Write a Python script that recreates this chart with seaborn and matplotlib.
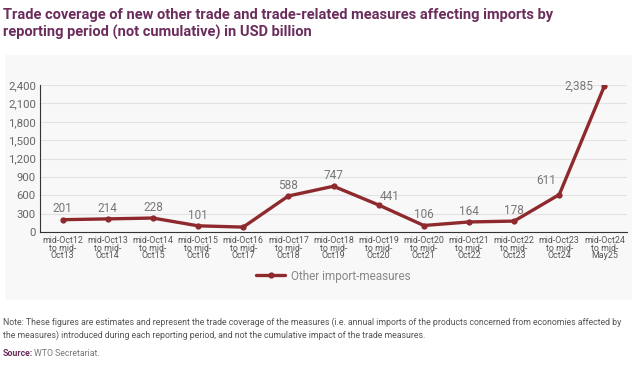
import seaborn as sns
import numpy as np
import pandas as pd
import matplotlib.pyplot as plt
from matplotlib.patches import Rectangle

# data (USD billion)
periods = ['mid-Oct12\nto mid-\nOct13', 'mid-Oct13\nto mid-\nOct14', 'mid-Oct14\nto mid-\nOct15',
           'mid-Oct15\nto mid-\nOct16', 'mid-Oct16\nto mid-\nOct17', 'mid-Oct17\nto mid-\nOct18',
           'mid-Oct18\nto mid-\nOct19', 'mid-Oct19\nto mid-\nOct20', 'mid-Oct20\nto mid-\nOct21',
           'mid-Oct21\nto mid-\nOct22', 'mid-Oct22\nto mid-\nOct23', 'mid-Oct23\nto mid-\nOct24',
           'mid-Oct24\nto mid-\nMay25']
values = [201, 214, 228, 101, 80, 588, 747, 441, 106, 164, 178, 611, 2385]
labels = ['201', '214', '228', '101', '', '588', '747', '441', '106', '164', '178', '611', '2,385']
yticks = [0, 300, 600, 900, 1200, 1500, 1800, 2100, 2400]

sns.set_style('white')
plt.rcParams['font.family'] = ['Roboto', 'DejaVu Sans']

df = pd.DataFrame({'x': np.arange(len(values)), 'value': values})

fig = plt.figure(figsize=(6.4, 3.67), dpi=100)
fig.patch.set_facecolor('white')

# light panel behind the chart
fig.patches.append(Rectangle((5/640, 1-300/367), 627/640, 245/367, transform=fig.transFigure,
                             facecolor='#f8f8f8', edgecolor='none', zorder=-5))

ax = fig.add_axes([40/640, 1-232/367, 587/640, 147/367])
ax.set_facecolor('none')
ax.set_zorder(2)

sns.lineplot(data=df, x='x', y='value', ax=ax, color='#8e2a2e', linewidth=2.4,
             marker='o', markersize=4.5, markeredgewidth=0, label='Other import-measures')

# value labels
for i, (v, t) in enumerate(zip(values, labels)):
    if not t:
        continue
    if i == len(values) - 1:
        ax.text(i - 0.25, v, t, ha='right', va='center', fontsize=8.5, color='#777777')
    elif i == 11:
        ax.text(i - 0.3, v + 130, t, ha='center', va='bottom', fontsize=8.5, color='#777777')
    elif i == 7:
        ax.text(i + 0.25, v + 40, t, ha='center', va='bottom', fontsize=8.5, color='#777777')
    else:
        ax.text(i, v + 70, t, ha='center', va='bottom', fontsize=8.5, color='#777777')

ax.set_xlim(-0.5, len(values) - 0.5)
ax.set_ylim(0, 2400)
ax.set_yticks(yticks)
ax.set_yticklabels(['{:,}'.format(y) for y in yticks], fontsize=8.2, color='#666666')
ax.set_xticks(df['x'])
ax.set_xticklabels(periods, fontsize=6.4, color='#555555', linespacing=0.8)
ax.tick_params(axis='both', length=0, pad=3)
ax.grid(axis='y', color='#e3e3e3', linewidth=0.8)
ax.set_xlabel('')
ax.set_ylabel('')
for s in ['top', 'right']:
    ax.spines[s].set_visible(False)
ax.spines['left'].set_color('#333333')
ax.spines['bottom'].set_color('#333333')
ax.spines['left'].set_linewidth(0.8)
ax.spines['bottom'].set_linewidth(0.8)

leg = ax.legend(loc='center', bbox_to_anchor=(0.5, -0.3), frameon=False, fontsize=8.5,
                handlelength=2.5, handletextpad=0.5)
for t in leg.get_texts():
    t.set_color('#888888')

fig.text(3/640, 1-24/367, 'Trade coverage of new other trade and trade-related measures affecting imports by\n'
         'reporting period (not cumulative) in USD billion', ha='left', va='center',
         fontsize=10.5, fontweight='bold', color='#6b2d5c', linespacing=1.3)

fig.text(3/640, 1-329/367, 'Note: These figures are estimates and represent the trade coverage of the measures '
         '(i.e. annual imports of the products concerned from economies affected by\n'
         'the measures) introduced during each reporting period, and not the cumulative impact of the trade measures.',
         ha='left', va='center', fontsize=6.3, color='#555555', linespacing=1.5)
fig.text(3/640, 1-354/367, 'Source:', ha='left', va='center', fontsize=6.3, fontweight='bold', color='#6b2d5c')
fig.text(34/640, 1-354/367, 'WTO Secretariat.', ha='left', va='center', fontsize=6.3, color='#777777')

fig.savefig('out.png', dpi=100)
